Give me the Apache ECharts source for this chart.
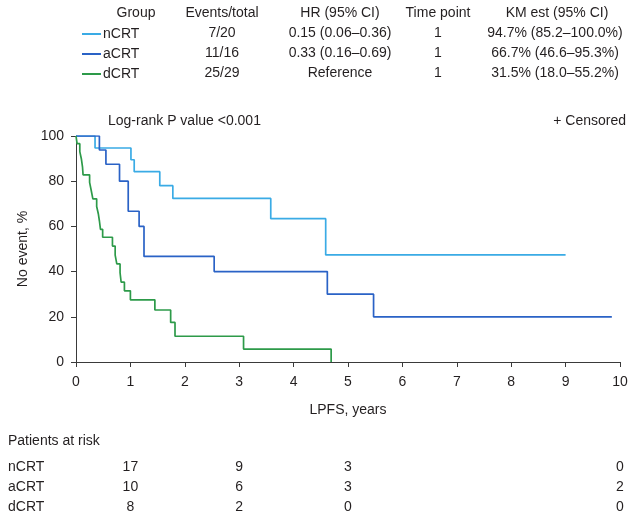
<!DOCTYPE html>
<html>
<head>
<meta charset="utf-8">
<script src="https://cdn.jsdelivr.net/npm/echarts@6/dist/echarts.min.js"></script>
<style>
  html, body { margin: 0; padding: 0; background: #fff; }
  #chart { width: 634px; height: 523px; }
</style>
</head>
<body>
<div id="chart"></div>
<script>
// Kaplan-Meier step data (years, % without event)
const nCrtTimes = [0, 0.35, 1.01, 1.07, 1.54, 1.78, 3.58, 4.59, 9.0]
const nCrtValues = [100, 94.7, 89.5, 84.2, 78.0, 72.4, 63.4, 47.4, 47.4]

const aCrtTimes = [0, 0.43, 0.55, 0.80, 0.96, 1.16, 1.25, 2.54, 4.62, 5.47, 9.85]
const aCrtValues = [100, 93.8, 87.5, 80.0, 66.7, 60.0, 46.7, 40.0, 30.0, 20.0, 20.0]

const dCrtTimes = [0, 0.02, 0.07, 0.10, 0.12, 0.13, 0.25, 0.28, 0.31, 0.38, 0.41, 0.43, 0.45,
  0.49, 0.67, 0.72, 0.75, 0.81, 0.83, 0.89, 1.0, 1.45, 1.74, 1.82, 3.08, 4.69]
const dCrtValues = [100, 96.6, 93.1, 89.7, 86.2, 82.8, 79.5, 75.9, 72.2, 68.8, 65.6, 62.5, 58.7,
  55.2, 51.3, 47.3, 43.4, 39.5, 35.3, 31.5, 27.5, 23.0, 17.5, 11.4, 5.7, 0]

// summary table
const groups = ['nCRT', 'aCRT', 'dCRT']
const tableHeaders = ['Group', 'Events/total', 'HR (95% CI)', 'Time point', 'KM est (95% CI)']
const eventsTotal = ['7/20', '11/16', '25/29']
const hrCi = ['0.15 (0.06\u20130.36)', '0.33 (0.16\u20130.69)', 'Reference']
const timePoint = ['1', '1', '1']
const kmEst = ['94.7% (85.2\u2013100.0%)', '66.7% (46.6\u201395.3%)', '31.5% (18.0\u201355.2%)']

// patients at risk
const riskTimes = [1, 3, 5, 10]
const riskN = [17, 9, 3, 0]
const riskA = [10, 6, 3, 2]
const riskD = [8, 2, 0, 0]

const colors = ['#3AABE5', '#2A62C6', '#2D9A49']
const font = '"Liberation Sans", Arial, sans-serif'
const ink = '#231f20'

const pairs = (ts, vs) => ts.map((t, i) => [t, vs[i]])

const chart = echarts.init(document.getElementById('chart'))

const mkText = (text, x, y, align, size) => ({
  type: 'text',
  x, y,
  style: { text, fill: ink, font: `${size || 14}px ${font}`, textAlign: align || 'center', textVerticalAlign: 'middle' }
})

chart.setOption({
  animation: false,
  color: colors,
  textStyle: { fontFamily: font },
  grid: { left: 76, right: 14, top: 136, height: 226 },
  legend: {
    orient: 'vertical',
    left: 77,
    top: 19,
    itemWidth: 19,
    itemHeight: 2,
    itemGap: 0,
    icon: 'rect',
    data: groups,
    textStyle: { fontSize: 14, color: ink, lineHeight: 20, padding: [0, 0, 0, -3] }
  },
  xAxis: {
    type: 'value',
    min: 0,
    max: 10,
    interval: 1,
    name: 'LPFS, years',
    nameLocation: 'middle',
    nameGap: 41,
    nameTextStyle: { fontSize: 14, color: ink },
    splitLine: { show: false },
    axisLine: { lineStyle: { color: '#3a3a3a', width: 1 } },
    axisTick: { inside: false, length: 5, lineStyle: { color: '#3a3a3a' } },
    axisLabel: { fontSize: 14, color: ink, margin: 13 }
  },
  yAxis: {
    type: 'value',
    min: 0,
    max: 100,
    interval: 20,
    name: 'No event, %',
    nameLocation: 'middle',
    nameGap: 46,
    nameRotate: 90,
    nameTextStyle: { fontSize: 14, color: ink },
    splitLine: { show: false },
    axisLine: { show: true, lineStyle: { color: '#3a3a3a', width: 1 } },
    axisTick: { show: true, inside: false, length: 5, lineStyle: { color: '#3a3a3a' } },
    axisLabel: { fontSize: 14, color: ink, margin: 12 }
  },
  series: [
    { name: 'nCRT', type: 'line', step: 'end', symbol: 'none', lineStyle: { width: 1.7 }, data: pairs(nCrtTimes, nCrtValues) },
    { name: 'aCRT', type: 'line', step: 'end', symbol: 'none', lineStyle: { width: 1.7 }, data: pairs(aCrtTimes, aCrtValues) },
    { name: 'dCRT', type: 'line', step: 'end', symbol: 'none', lineStyle: { width: 1.7 }, data: pairs(dCrtTimes, dCrtValues) }
  ]
})

// table + annotations, placed after the grid exists
const xPx = t => chart.convertToPixel({ xAxisIndex: 0 }, t)
const graphics = []

const headX = [136, 222, 340, 438, 557]
const colX = [null, 222, 340, 438, 555]
const rowY = [33, 53, 73]
tableHeaders.forEach((h, i) => graphics.push(mkText(h, headX[i], 13)))
groups.forEach((g, r) => {
  graphics.push(mkText(eventsTotal[r], colX[1], rowY[r]))
  graphics.push(mkText(hrCi[r], colX[2], rowY[r]))
  graphics.push(mkText(timePoint[r], colX[3], rowY[r]))
  graphics.push(mkText(kmEst[r], colX[4], rowY[r]))
})

graphics.push(mkText('Log-rank P value <0.001', 108, 121, 'left'))
graphics.push(mkText('+ Censored', 626, 121, 'right'))

graphics.push(mkText('Patients at risk', 8, 441, 'left'))
const riskRows = [riskN, riskA, riskD]
const riskY = [467, 487, 507]
groups.forEach((g, r) => {
  graphics.push(mkText(g, 8, riskY[r], 'left'))
  riskTimes.forEach((t, i) => graphics.push(mkText(String(riskRows[r][i]), xPx(t), riskY[r])))
})

chart.setOption({ graphic: graphics })
</script>
</body>
</html>
